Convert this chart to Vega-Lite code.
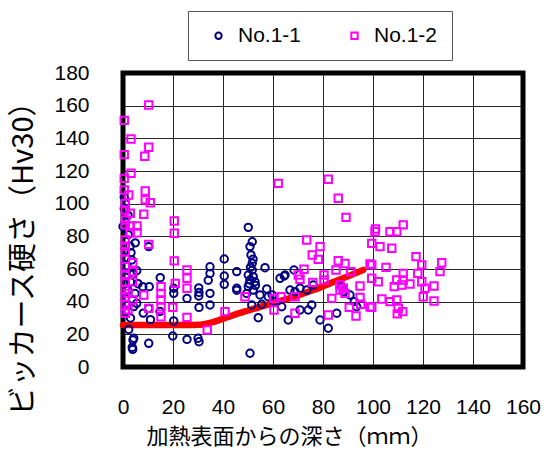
{
"$schema":"https://vega.github.io/schema/vega-lite/v6.json",
"width":400,"height":294,
"autosize":{"type":"none"},
"padding":{"left":123,"top":73,"right":24,"bottom":89},
"background":"white",
"config":{
 "view":{"stroke":"#000","strokeWidth":5},
 "font":"Liberation Sans",
 "axis":{"grid":true,"gridColor":"#000","gridWidth":1,"gridOpacity":0.85,"domain":false,"ticks":false,"labelOverlap":false,"labelFlush":false,"labelFont":"Liberation Sans","labelFontSize":21,"labelColor":"#000","titleFont":"Noto Sans CJK JP","titleFontWeight":"normal","titleColor":"#000"}
},
"datasets":{
 "pts":[
{"s":"No.1-1","x":0.5,"y":104},{"s":"No.1-1","x":1,"y":100},{"s":"No.1-1","x":0.5,"y":97},{"s":"No.1-1","x":2,"y":93},{"s":"No.1-1","x":1,"y":89},{"s":"No.1-1","x":0,"y":86},{"s":"No.1-1","x":2.1,"y":81},{"s":"No.1-1","x":4.9,"y":76},{"s":"No.1-1","x":2.8,"y":74},{"s":"No.1-1","x":3.2,"y":70},{"s":"No.1-1","x":1,"y":67},{"s":"No.1-1","x":3.5,"y":65.5},{"s":"No.1-1","x":1.5,"y":62},{"s":"No.1-1","x":5.5,"y":59},{"s":"No.1-1","x":4.1,"y":57},{"s":"No.1-1","x":1,"y":55},{"s":"No.1-1","x":3,"y":52},{"s":"No.1-1","x":6,"y":51},{"s":"No.1-1","x":4.8,"y":45},{"s":"No.1-1","x":2,"y":47},{"s":"No.1-1","x":1,"y":42},{"s":"No.1-1","x":5.5,"y":39},{"s":"No.1-1","x":2,"y":38},{"s":"No.1-1","x":4.3,"y":37},{"s":"No.1-1","x":1,"y":34},{"s":"No.1-1","x":8.1,"y":33},{"s":"No.1-1","x":3,"y":30},{"s":"No.1-1","x":2.3,"y":23},{"s":"No.1-1","x":4.3,"y":17.6},{"s":"No.1-1","x":3.9,"y":10.8},{"s":"No.1-1","x":4,"y":16.5},{"s":"No.1-1","x":3.7,"y":12},
{"s":"No.1-1","x":7.9,"y":49.2},{"s":"No.1-1","x":10.5,"y":49.2},{"s":"No.1-1","x":10.3,"y":35.9},{"s":"No.1-1","x":10.3,"y":14.5},{"s":"No.1-1","x":10.3,"y":73.7},{"s":"No.1-1","x":14.9,"y":54.7},{"s":"No.1-1","x":11,"y":29},{"s":"No.1-1","x":14.8,"y":34},
{"s":"No.1-1","x":20.3,"y":48.2},{"s":"No.1-1","x":20.3,"y":45.1},{"s":"No.1-1","x":20.3,"y":28.2},{"s":"No.1-1","x":19.9,"y":19},
{"s":"No.1-1","x":25.6,"y":42},{"s":"No.1-1","x":25.6,"y":16.9},
{"s":"No.1-1","x":30.3,"y":48.4},{"s":"No.1-1","x":30.3,"y":43.5},{"s":"No.1-1","x":30.4,"y":36.5},{"s":"No.1-1","x":30,"y":17.6},{"s":"No.1-1","x":30.4,"y":15.5},{"s":"No.1-1","x":30.4,"y":45.6},
{"s":"No.1-1","x":34.8,"y":61.4},{"s":"No.1-1","x":34.8,"y":57.3},{"s":"No.1-1","x":34.1,"y":53.1},{"s":"No.1-1","x":34.8,"y":45.1},{"s":"No.1-1","x":34.8,"y":38},
{"s":"No.1-1","x":40.5,"y":66.1},{"s":"No.1-1","x":40.5,"y":55.7},{"s":"No.1-1","x":40.5,"y":50.6},
{"s":"No.1-1","x":45.5,"y":58.4},{"s":"No.1-1","x":45.5,"y":48.2},{"s":"No.1-1","x":45.5,"y":47},
{"s":"No.1-1","x":50.1,"y":85.5},{"s":"No.1-1","x":51.7,"y":76.7},{"s":"No.1-1","x":50.8,"y":73.7},{"s":"No.1-1","x":51.2,"y":68.6},{"s":"No.1-1","x":51.7,"y":63.5},{"s":"No.1-1","x":51.7,"y":59.4},{"s":"No.1-1","x":50.1,"y":56.3},{"s":"No.1-1","x":52.1,"y":55.3},{"s":"No.1-1","x":50.8,"y":53.3},{"s":"No.1-1","x":52.8,"y":52.2},{"s":"No.1-1","x":50.1,"y":49.2},{"s":"No.1-1","x":52.1,"y":47.1},{"s":"No.1-1","x":51.5,"y":38},{"s":"No.1-1","x":50.8,"y":8.4},{"s":"No.1-1","x":51,"y":61},{"s":"No.1-1","x":52,"y":66},{"s":"No.1-1","x":50.5,"y":51},{"s":"No.1-1","x":53,"y":50},{"s":"No.1-1","x":49.5,"y":45},
{"s":"No.1-1","x":56.8,"y":60.8},{"s":"No.1-1","x":57.5,"y":47.8},{"s":"No.1-1","x":54.8,"y":44.1},{"s":"No.1-1","x":58.1,"y":43},{"s":"No.1-1","x":55.5,"y":38.4},{"s":"No.1-1","x":54.1,"y":30.2},{"s":"No.1-1","x":62.8,"y":54.3},{"s":"No.1-1","x":64.5,"y":55.7},{"s":"No.1-1","x":60.5,"y":40},{"s":"No.1-1","x":59.7,"y":44.1},
{"s":"No.1-1","x":68.4,"y":59.4},{"s":"No.1-1","x":64.8,"y":56.3},{"s":"No.1-1","x":68.8,"y":46.1},{"s":"No.1-1","x":76.1,"y":50.2},{"s":"No.1-1","x":73.5,"y":47.1},{"s":"No.1-1","x":70.8,"y":48.2},{"s":"No.1-1","x":66.8,"y":47.1},{"s":"No.1-1","x":75.5,"y":38},{"s":"No.1-1","x":74.1,"y":34.9},{"s":"No.1-1","x":70.8,"y":34.9},{"s":"No.1-1","x":66.1,"y":28.8},{"s":"No.1-1","x":63.5,"y":36.9},
{"s":"No.1-1","x":78.8,"y":28.8},{"s":"No.1-1","x":82.1,"y":23.7},{"s":"No.1-1","x":85.5,"y":32.9},{"s":"No.1-1","x":87.5,"y":49.2},{"s":"No.1-1","x":88.1,"y":46.1},{"s":"No.1-1","x":90.8,"y":44.1},{"s":"No.1-1","x":93.5,"y":36.9},{"s":"No.1-1","x":92.5,"y":40},
{"s":"No.1-2","x":10.3,"y":160.4},{"s":"No.1-2","x":0.5,"y":151},{"s":"No.1-2","x":3.2,"y":139.6},{"s":"No.1-2","x":10.3,"y":134.5},{"s":"No.1-2","x":8.7,"y":129},{"s":"No.1-2","x":0.5,"y":130},{"s":"No.1-2","x":3.2,"y":118.6},{"s":"No.1-2","x":0.5,"y":115.5},{"s":"No.1-2","x":0.5,"y":108.4},{"s":"No.1-2","x":8.9,"y":107.8},{"s":"No.1-2","x":2.3,"y":105.3},{"s":"No.1-2","x":8.9,"y":102.3},{"s":"No.1-2","x":10.9,"y":100.6},{"s":"No.1-2","x":0.9,"y":100.1},{"s":"No.1-2","x":0.9,"y":96.1},{"s":"No.1-2","x":2.9,"y":94.1},{"s":"No.1-2","x":8.3,"y":93.5},{"s":"No.1-2","x":0.9,"y":87},{"s":"No.1-2","x":2.9,"y":86.3},{"s":"No.1-2","x":5.6,"y":86.3},{"s":"No.1-2","x":5.6,"y":82.2},{"s":"No.1-2","x":2.9,"y":82.2},{"s":"No.1-2","x":0.9,"y":77.8},{"s":"No.1-2","x":10.3,"y":75.1},{"s":"No.1-2","x":20.5,"y":89.4},{"s":"No.1-2","x":20.5,"y":81.9},{"s":"No.1-2","x":20.5,"y":65},{"s":"No.1-2","x":0.9,"y":70.6},{"s":"No.1-2","x":0.9,"y":61.4},{"s":"No.1-2","x":3.9,"y":63.8},{"s":"No.1-2","x":3.9,"y":58.4},{"s":"No.1-2","x":0.9,"y":52.2},{"s":"No.1-2","x":3.9,"y":52.2},{"s":"No.1-2","x":0.9,"y":47.1},{"s":"No.1-2","x":0.9,"y":43},{"s":"No.1-2","x":0.9,"y":38},{"s":"No.1-2","x":0.9,"y":32.9},{"s":"No.1-2","x":3.9,"y":41},{"s":"No.1-2","x":8.3,"y":44},{"s":"No.1-2","x":10.3,"y":35.9},{"s":"No.1-2","x":25.6,"y":59.4},{"s":"No.1-2","x":25.6,"y":54.3},{"s":"No.1-2","x":25.6,"y":48.2},{"s":"No.1-2","x":20.9,"y":51.2},{"s":"No.1-2","x":15.2,"y":49.2},{"s":"No.1-2","x":15.2,"y":45.1},{"s":"No.1-2","x":15.2,"y":41},{"s":"No.1-2","x":15.2,"y":36.9},{"s":"No.1-2","x":15.2,"y":30.8},{"s":"No.1-2","x":19.9,"y":36.5},{"s":"No.1-2","x":25.6,"y":30.4},{"s":"No.1-2","x":0.9,"y":66},{"s":"No.1-2","x":0.9,"y":56},{"s":"No.1-2","x":2,"y":35},{"s":"No.1-2","x":1,"y":90},{"s":"No.1-2","x":0.9,"y":74},{"s":"No.1-2","x":2,"y":45},
{"s":"No.1-2","x":33.7,"y":22.7},{"s":"No.1-2","x":40.8,"y":33.9},{"s":"No.1-2","x":48.8,"y":43},{"s":"No.1-2","x":60.4,"y":42},{"s":"No.1-2","x":63.2,"y":43},{"s":"No.1-2","x":60.4,"y":34.9},{"s":"No.1-2","x":62.1,"y":112.4},{"s":"No.1-2","x":82.1,"y":114.9},{"s":"No.1-2","x":86.1,"y":103.3},{"s":"No.1-2","x":89.2,"y":91.6},{"s":"No.1-2","x":73.5,"y":77.8},{"s":"No.1-2","x":78.8,"y":73.7},{"s":"No.1-2","x":75.7,"y":68.6},{"s":"No.1-2","x":78.1,"y":65.9},{"s":"No.1-2","x":86.1,"y":65.1},{"s":"No.1-2","x":88.8,"y":63.4},{"s":"No.1-2","x":72.4,"y":59.8},{"s":"No.1-2","x":85.2,"y":59.4},{"s":"No.1-2","x":91.1,"y":58.4},{"s":"No.1-2","x":70.1,"y":56.3},{"s":"No.1-2","x":70.8,"y":53.7},{"s":"No.1-2","x":75.9,"y":51.8},{"s":"No.1-2","x":80.4,"y":56.3},{"s":"No.1-2","x":80.4,"y":53.3},{"s":"No.1-2","x":86.8,"y":50.2},{"s":"No.1-2","x":86.8,"y":47.1},{"s":"No.1-2","x":94.8,"y":49.6},{"s":"No.1-2","x":88.1,"y":48.2},{"s":"No.1-2","x":68.8,"y":43},{"s":"No.1-2","x":83.5,"y":42},{"s":"No.1-2","x":88.8,"y":45.1},{"s":"No.1-2","x":94.8,"y":42.6},{"s":"No.1-2","x":95.1,"y":38.4},{"s":"No.1-2","x":90.5,"y":36.5},{"s":"No.1-2","x":98.8,"y":36.9},{"s":"No.1-2","x":68.8,"y":32.9},{"s":"No.1-2","x":82.1,"y":31.8},{"s":"No.1-2","x":93.2,"y":31.2},{"s":"No.1-2","x":98.8,"y":63.1},
{"s":"No.1-2","x":100.8,"y":82.8},{"s":"No.1-2","x":106.8,"y":82.8},{"s":"No.1-2","x":109.5,"y":82.8},{"s":"No.1-2","x":112.1,"y":87},{"s":"No.1-2","x":102.8,"y":73.7},{"s":"No.1-2","x":107.5,"y":72.7},{"s":"No.1-2","x":99.5,"y":75.7},{"s":"No.1-2","x":117.2,"y":67.6},{"s":"No.1-2","x":119.5,"y":62.5},{"s":"No.1-2","x":127.5,"y":63.8},{"s":"No.1-2","x":126.8,"y":58.4},{"s":"No.1-2","x":105.2,"y":61},{"s":"No.1-2","x":112.1,"y":57.3},{"s":"No.1-2","x":117.9,"y":57.3},{"s":"No.1-2","x":99.5,"y":62.5},{"s":"No.1-2","x":99.5,"y":54.3},{"s":"No.1-2","x":102.1,"y":52.2},{"s":"No.1-2","x":109.5,"y":53.3},{"s":"No.1-2","x":112.1,"y":53.3},{"s":"No.1-2","x":114.8,"y":50.8},{"s":"No.1-2","x":119.5,"y":52.2},{"s":"No.1-2","x":108.5,"y":49.2},{"s":"No.1-2","x":111.5,"y":50.2},{"s":"No.1-2","x":120.8,"y":48.2},{"s":"No.1-2","x":124.4,"y":49.6},{"s":"No.1-2","x":120.1,"y":43},{"s":"No.1-2","x":124.4,"y":40.4},{"s":"No.1-2","x":103.5,"y":41.6},{"s":"No.1-2","x":106.8,"y":40},{"s":"No.1-2","x":109.5,"y":41},{"s":"No.1-2","x":110.1,"y":35.9},{"s":"No.1-2","x":111.9,"y":33.9},{"s":"No.1-2","x":109.7,"y":32.5},{"s":"No.1-2","x":99.5,"y":36.5},{"s":"No.1-2","x":101,"y":84.5}
 ],
 "line":[
{"x":0,"y":25.7},{"x":10,"y":25.7},{"x":20,"y":25.7},{"x":30,"y":25.8},{"x":36,"y":27.5},{"x":42,"y":30.6},{"x":48.8,"y":34},{"x":56,"y":37.3},{"x":63,"y":40.4},{"x":69.5,"y":43.5},{"x":76.1,"y":47.1},{"x":82.8,"y":51.2},{"x":89.5,"y":55.3},{"x":96.1,"y":59.4}
 ]
},
"layer":[
 {
  "data":{"name":"line"},
  "mark":{"type":"line","color":"#FF0000","strokeWidth":6.5,"strokeCap":"round","strokeJoin":"round","interpolate":"monotone","clip":false},
  "encoding":{
   "x":{"field":"x","type":"quantitative","scale":{"domain":[0,160],"nice":false},"axis":{"values":[0,20,40,60,80,100,120,140,160],"labelOverlap":false,"labelPadding":29,"labelDx":-7,"title":"加熱表面からの深さ（ｍｍ）","titleFontSize":22,"titleX":166,"titleY":81,"titleBaseline":"bottom","titleAlign":"center"}},
   "y":{"field":"y","type":"quantitative","scale":{"domain":[0,180],"nice":false},"axis":{"values":[0,20,40,60,80,100,120,140,160,180],"labelOverlap":false,"labelPadding":34,"labelBaseline":"middle","title":"ビッカース硬さ（Hv30）","titleFontSize":29,"titleX":-100,"titleY":178,"titleBaseline":"middle","titleAlign":"center","titleAngle":270}}
  }
 },
 {
  "data":{"name":"pts"},
  "mark":{"type":"point","filled":false,"strokeWidth":2,"size":55,"opacity":1},
  "encoding":{
   "x":{"field":"x","type":"quantitative","axis":{"values":[0,20,40,60,80,100,120,140,160],"labelOverlap":false,"labelPadding":29,"labelDx":-7,"title":"加熱表面からの深さ（ｍｍ）","titleFontSize":22,"titleX":166,"titleY":81,"titleBaseline":"bottom","titleAlign":"center"}},
   "y":{"field":"y","type":"quantitative","axis":{"values":[0,20,40,60,80,100,120,140,160,180],"labelOverlap":false,"labelPadding":34,"labelBaseline":"middle","title":"ビッカース硬さ（Hv30）","titleFontSize":29,"titleX":-100,"titleY":178,"titleBaseline":"middle","titleAlign":"center","titleAngle":270}},
   "color":{"field":"s","type":"nominal","scale":{"domain":["No.1-1","No.1-2"],"range":["#000080","#FF00FF"]},
    "legend":{"orient":"none","legendX":65,"legendY":-62,"direction":"horizontal","title":null,"strokeColor":"#555","fillColor":"#fff","padding":14,"symbolOffset":6,"labelOffset":9,"columnPadding":36,"symbolSize":40,"symbolStrokeWidth":2,"labelFontSize":21,"labelFont":"Liberation Sans","labelColor":"#000"}},
   "shape":{"field":"s","type":"nominal","scale":{"domain":["No.1-1","No.1-2"],"range":["circle","square"]},
    "legend":{"orient":"none","legendX":65,"legendY":-62,"direction":"horizontal","title":null,"strokeColor":"#555","fillColor":"#fff","padding":14,"symbolOffset":6,"labelOffset":9,"columnPadding":36,"symbolSize":40,"symbolStrokeWidth":2,"labelFontSize":21,"labelFont":"Liberation Sans","labelColor":"#000"}}
  }
 }
]
}
